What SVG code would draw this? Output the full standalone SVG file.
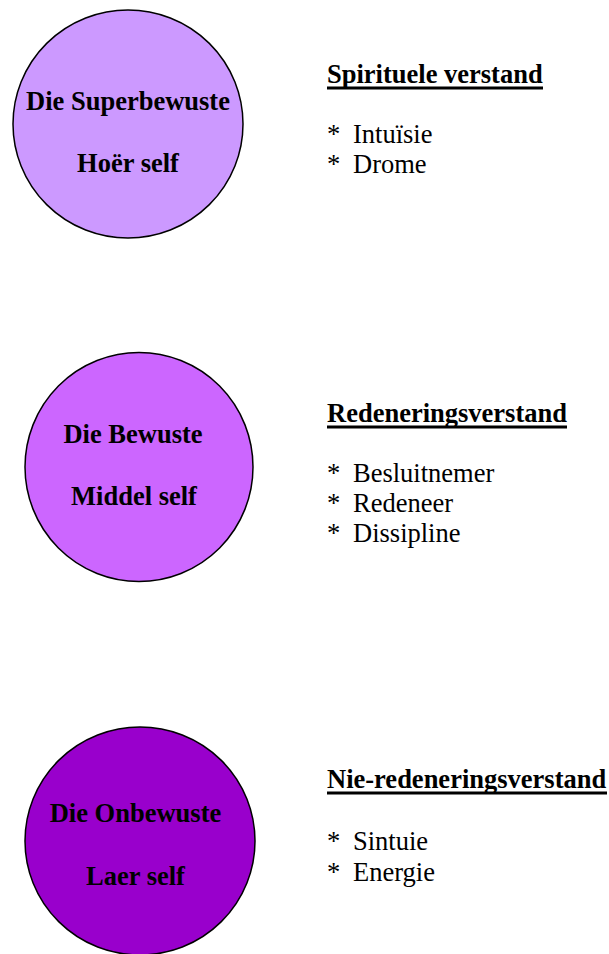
<svg xmlns="http://www.w3.org/2000/svg" width="609" height="954" viewBox="0 0 609 954">
  <style>
    .node ellipse { stroke: #000; stroke-width: 1.5; }
    .label { font-family: "Liberation Serif", "Times New Roman", serif; font-weight: bold; font-size: 26.5px; text-anchor: middle; fill: #000; }
    .head { font-family: "Liberation Serif", "Times New Roman", serif; font-weight: bold; font-size: 26.5px; fill: #000; }
    .rule { stroke: #000; stroke-width: 3; }
    .item { font-family: "Liberation Serif", "Times New Roman", serif; font-size: 26.5px; fill: #000; }
  </style>
  <rect width="609" height="954" fill="#fff"/>

  <!-- Superconscious / higher self -->
  <g id="superbewuste" class="node">
    <ellipse cx="128" cy="124" rx="115" ry="114" fill="#CC99FF"/>
    <text class="label" x="128" y="110">Die Superbewuste</text>
    <text class="label" x="128" y="172">Hoër self</text>
  </g>
  <g id="spiritueel">
    <text class="head" x="327" y="83">Spirituele verstand</text>
    <line class="rule" x1="327" y1="88" x2="543" y2="88"/>
    <text class="item" x="327" y="143">*</text><text class="item" x="353" y="143">Intuïsie</text>
    <text class="item" x="327" y="173">*</text><text class="item" x="353" y="173">Drome</text>
  </g>

  <!-- Conscious / middle self -->
  <g id="bewuste" class="node">
    <ellipse cx="139" cy="467" rx="114" ry="114.5" fill="#CC66FF"/>
    <text class="label" x="133" y="443">Die Bewuste</text>
    <text class="label" x="134" y="505">Middel self</text>
  </g>
  <g id="redenering">
    <text class="head" x="327" y="422">Redeneringsverstand</text>
    <line class="rule" x1="327" y1="427" x2="567" y2="427"/>
    <text class="item" x="327" y="482">*</text><text class="item" x="353" y="482">Besluitnemer</text>
    <text class="item" x="327" y="512">*</text><text class="item" x="353" y="512">Redeneer</text>
    <text class="item" x="327" y="542">*</text><text class="item" x="353" y="542">Dissipline</text>
  </g>

  <!-- Subconscious / lower self -->
  <g id="onbewuste" class="node">
    <ellipse cx="140" cy="841" rx="115" ry="114" fill="#9900CC"/>
    <text class="label" x="135.5" y="822">Die Onbewuste</text>
    <text class="label" x="135.5" y="885">Laer self</text>
  </g>
  <g id="nie-redenering">
    <text class="head" x="327" y="788">Nie-redeneringsverstand</text>
    <line class="rule" x1="327" y1="793" x2="607" y2="793"/>
    <text class="item" x="327" y="850">*</text><text class="item" x="353" y="850">Sintuie</text>
    <text class="item" x="327" y="881">*</text><text class="item" x="353" y="881">Energie</text>
  </g>
</svg>
